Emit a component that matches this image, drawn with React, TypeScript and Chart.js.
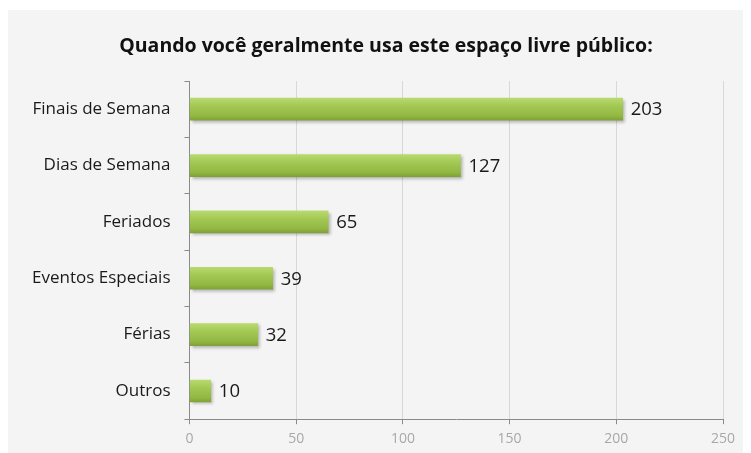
import React, { useEffect, useRef } from "react";
import { Chart, registerables } from "chart.js";

Chart.register(...registerables);

const titleText = "Quando você geralmente usa este espaço livre público:";
const categories = [
  "Finais de Semana",
  "Dias de Semana",
  "Feriados",
  "Eventos Especiais",
  "Férias",
  "Outros",
];
const values = [203, 127, 65, 39, 32, 10];
const xTicks = [0, 50, 100, 150, 200, 250];

const FONT = "'Open Sans', 'Noto Sans', sans-serif";

export default function App() {
  const ref = useRef<HTMLCanvasElement | null>(null);

  useEffect(() => {
    const canvas = ref.current;
    if (!canvas) return;

    const titlePlugin = {
      id: "fixedTitle",
      afterDraw(chart: any) {
        const ctx = chart.ctx;
        ctx.save();
        ctx.fillStyle = "#111";
        ctx.font = `bold 19.5px ${FONT}`;
        ctx.textAlign = "center";
        ctx.textBaseline = "middle";
        ctx.fillText(titleText, 378, 36);
        ctx.restore();
      },
    };

    const shadowPlugin = {
      id: "barShadow",
      beforeDatasetsDraw(chart: any) {
        const ctx = chart.ctx;
        ctx.save();
        ctx.shadowColor = "rgba(0,0,0,0.28)";
        ctx.shadowBlur = 3;
        ctx.shadowOffsetX = 2;
        ctx.shadowOffsetY = 2;
      },
      afterDatasetsDraw(chart: any) {
        const ctx = chart.ctx;
        ctx.restore();
        const meta = chart.getDatasetMeta(0);
        ctx.save();
        ctx.fillStyle = "#1a1a1a";
        ctx.font = `18.5px ${FONT}`;
        ctx.textAlign = "left";
        ctx.textBaseline = "middle";
        meta.data.forEach((el: any, i: number) => {
          ctx.fillText(String(values[i]), el.x + 8, el.y + 1);
        });
        ctx.restore();
      },
    };

    const chart = new Chart(canvas, {
      type: "bar",
      data: {
        labels: categories,
        datasets: [
          {
            data: values,
            barThickness: 22,
            borderWidth: 0,
            backgroundColor: (c: any) => {
              const ch = c.chart;
              const ys = ch.scales?.y;
              if (!ys || !ch.chartArea) return "#9cc44b";
              const y = ys.getPixelForValue(c.dataIndex);
              const g = ch.ctx.createLinearGradient(0, y - 11, 0, y + 11);
              g.addColorStop(0, "#b9d96f");
              g.addColorStop(0.35, "#a3c954");
              g.addColorStop(0.8, "#92b843");
              g.addColorStop(1, "#7fa236");
              return g;
            },
          },
        ],
      },
      options: {
        indexAxis: "y",
        animation: false,
        responsive: false,
        maintainAspectRatio: false,
        layout: { padding: { left: 10, right: 28, top: 71, bottom: 0 } },
        plugins: {
          legend: { display: false },
          tooltip: { enabled: false },
          title: { display: false },
        },
        scales: {
          x: {
            min: 0,
            max: 250,
            afterBuildTicks: (axis: any) => {
              axis.ticks = xTicks.map((v) => ({ value: v }));
            },
            grid: {
              color: "#d8d8d8",
              tickColor: "#8a8a8a",
              tickLength: 5,
              drawOnChartArea: true,
            },
            border: { display: true, color: "#8a8a8a" },
            ticks: {
              color: "#a8a8a8",
              font: { family: FONT, size: 14 },
              padding: 6,
            },
          },
          y: {
            grid: {
              drawOnChartArea: false,
              drawTicks: true,
              tickLength: 5,
              tickColor: "#8a8a8a",
              offset: true,
            },
            border: { display: true, color: "#8a8a8a" },
            ticks: {
              color: "#1a1a1a",
              font: { family: FONT, size: 17 },
              padding: 14,
            },
          },
        },
      },
      plugins: [shadowPlugin, titlePlugin],
    } as any);

    return () => chart.destroy();
  }, []);

  return (
    <div style={{ marginTop: 2, width: 743, height: 443, background: "#f4f4f4" }}>
      <canvas ref={ref} width={743} height={443} style={{ display: "block" }} />
    </div>
  );
}
